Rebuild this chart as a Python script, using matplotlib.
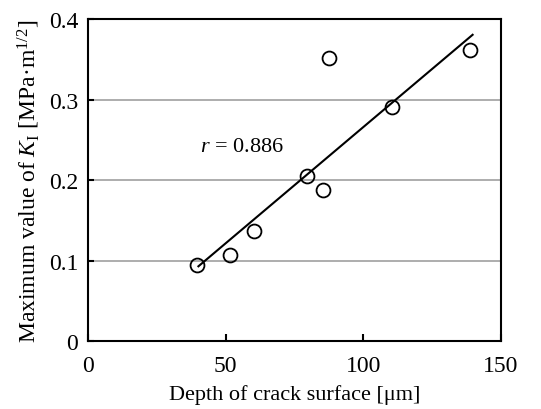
import matplotlib
matplotlib.use("Agg")
import matplotlib.pyplot as plt

depth = [39.5, 51.6, 60.4, 79.4, 85.5, 87.6, 110.3, 138.7]
k_max = [0.095, 0.107, 0.137, 0.205, 0.188, 0.352, 0.291, 0.362]
fit_x = [40.1, 139.7]
fit_y = [0.0928, 0.3805]
x_ticks = [0, 50, 100, 150]
y_ticks = [0, 0.1, 0.2, 0.3, 0.4]
y_tick_labels = ["0", "0.1", "0.2", "0.3", "0.4"]

plt.rcParams['font.family'] = ['Liberation Serif', 'DejaVu Serif']
plt.rcParams['mathtext.fontset'] = 'custom'
plt.rcParams['mathtext.rm'] = 'Liberation Serif'
plt.rcParams['mathtext.it'] = 'Liberation Serif:italic'

fig = plt.figure(figsize=(5.41, 4.10), dpi=100)
ax = fig.add_axes([0.1627, 0.1659, 0.926 - 0.1627, 0.951 - 0.1659])

for yv in y_ticks[1:-1]:
    ax.axhline(yv, color='#a0a0a0', lw=1.2, zorder=0)

ax.plot(fit_x, fit_y, color='black', lw=1.5, zorder=2)
ax.plot(depth, k_max, linestyle='none', marker='o', markersize=10,
        markerfacecolor='none', markeredgecolor='black', markeredgewidth=1.3, zorder=3)

ax.text(40.7, 0.242, r'$r$ = 0.886', fontsize=16, va='center', ha='left')

ax.set_xlim(0, 150)
ax.set_ylim(0, 0.4)
ax.set_xticks(x_ticks)
ax.set_yticks(y_ticks)
ax.set_yticklabels(y_tick_labels)
ax.tick_params(axis='x', direction='in', length=5, width=1.5, labelsize=17, pad=10)
ax.tick_params(axis='y', direction='in', length=4, width=1.5, labelsize=17, pad=7)
for s in ax.spines.values():
    s.set_linewidth(1.5)

ax.set_xlabel('Depth of crack surface [μm]', fontsize=16, labelpad=6)
ax.set_ylabel(r'Maximum value of $K_\mathrm{I}$ [MPa·m$^{1/2}$]', fontsize=17, labelpad=5)

fig.savefig('out.png', dpi=100)
